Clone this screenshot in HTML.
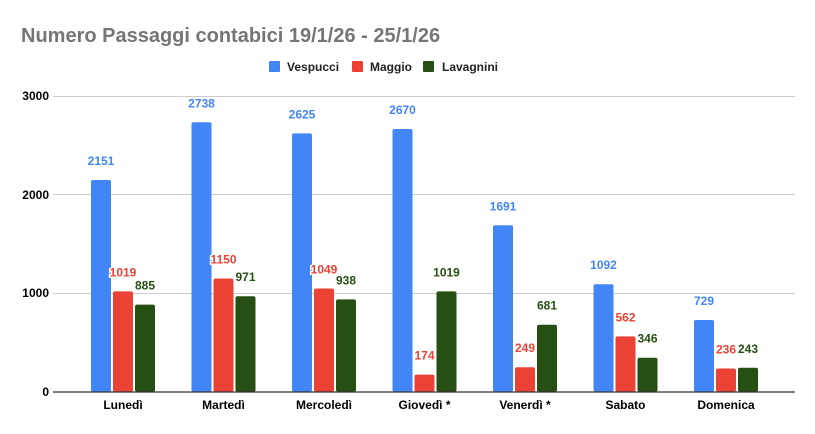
<!DOCTYPE html>
<html><head><meta charset="utf-8"><style>
html,body{margin:0;padding:0;background:#fff;}
svg{display:block;font-family:"Liberation Sans",Arial,sans-serif;}
.v{font-size:12px;font-weight:bold;text-anchor:middle;stroke:#fff;stroke-width:3px;paint-order:stroke;}
.b{fill:#4285f4}.r{fill:#ea4335}.g{fill:#274e13}
.c{font-size:12px;font-weight:bold;text-anchor:middle;fill:#000}
</style></head><body>
<svg width="815" height="434" viewBox="0 0 815 434" xmlns="http://www.w3.org/2000/svg">
<rect width="815" height="434" fill="#fff"/>
<text x="21" y="42" font-size="20" font-weight="bold" fill="#757575">Numero Passaggi contabici 19/1/26 - 25/1/26</text>
<g font-size="12" font-weight="bold" fill="#222">
<rect x="269" y="61" width="11" height="11" rx="1" fill="#4285f4"/><text x="287" y="71">Vespucci</text>
<rect x="352" y="61" width="11" height="11" rx="1" fill="#ea4335"/><text x="370" y="71">Maggio</text>
<rect x="423" y="61" width="11" height="11" rx="1" fill="#274e13"/><text x="442" y="71">Lavagnini</text>
</g>
<g stroke="#cccccc" stroke-width="1">
<line x1="53" y1="96.5" x2="795" y2="96.5"/>
<line x1="53" y1="194.5" x2="795" y2="194.5"/>
<line x1="53" y1="293.5" x2="795" y2="293.5"/>
</g>
<g font-size="12" font-weight="bold" fill="#000" text-anchor="end">
<text x="49" y="100">3000</text><text x="49" y="199">2000</text><text x="49" y="297">1000</text><text x="49" y="396">0</text>
</g>

<rect class="b" x="91" y="180.0" width="20" height="211.7" rx="2"/><text class="v b" x="101" y="165">2151</text>
<rect class="r" x="113" y="291.4" width="20" height="100.3" rx="2"/><text class="v r" x="123" y="276.4">1019</text>
<rect class="g" x="135" y="304.6" width="20" height="87.1" rx="2"/><text class="v g" x="145" y="289.6">885</text>
<text class="c" x="123" y="409">Lunedì</text>

<rect class="b" x="191.5" y="122.3" width="20" height="269.4" rx="2"/><text class="v b" x="201.5" y="107.3">2738</text>
<rect class="r" x="213.5" y="278.5" width="20" height="113.2" rx="2"/><text class="v r" x="223.5" y="263.5">1150</text>
<rect class="g" x="235.5" y="296.2" width="20" height="95.5" rx="2"/><text class="v g" x="245.5" y="281.2">971</text>
<text class="c" x="223.5" y="409">Martedì</text>

<rect class="b" x="292" y="133.4" width="20" height="258.3" rx="2"/><text class="v b" x="302" y="118.4">2625</text>
<rect class="r" x="314" y="288.5" width="20" height="103.2" rx="2"/><text class="v r" x="324" y="273.5">1049</text>
<rect class="g" x="336" y="299.4" width="20" height="92.3" rx="2"/><text class="v g" x="346" y="284.4">938</text>
<text class="c" x="324" y="409">Mercoledì</text>

<rect class="b" x="392.5" y="129.0" width="20" height="262.7" rx="2"/><text class="v b" x="402.5" y="114">2670</text>
<rect class="r" x="414.5" y="374.6" width="20" height="17.1" rx="2"/><text class="v r" x="424.5" y="359.6">174</text>
<rect class="g" x="436.5" y="291.4" width="20" height="100.3" rx="2"/><text class="v g" x="446.5" y="276.4">1019</text>
<text class="c" x="424.5" y="409">Giovedì *</text>

<rect class="b" x="493" y="225.3" width="20" height="166.4" rx="2"/><text class="v b" x="503" y="210.3">1691</text>
<rect class="r" x="515" y="367.2" width="20" height="24.5" rx="2"/><text class="v r" x="525" y="352.2">249</text>
<rect class="g" x="537" y="324.7" width="20" height="67.0" rx="2"/><text class="v g" x="547" y="309.7">681</text>
<text class="c" x="525" y="409">Venerdì *</text>

<rect class="b" x="593.5" y="284.2" width="20" height="107.5" rx="2"/><text class="v b" x="603.5" y="269.2">1092</text>
<rect class="r" x="615.5" y="336.4" width="20" height="55.3" rx="2"/><text class="v r" x="625.5" y="321.4">562</text>
<rect class="g" x="637.5" y="357.7" width="20" height="34.0" rx="2"/><text class="v g" x="647.5" y="342.7">346</text>
<text class="c" x="625.5" y="409">Sabato</text>

<rect class="b" x="694" y="320.0" width="20" height="71.7" rx="2"/><text class="v b" x="704" y="305">729</text>
<rect class="r" x="716" y="368.5" width="20" height="23.2" rx="2"/><text class="v r" x="726" y="353.5">236</text>
<rect class="g" x="738" y="367.8" width="20" height="23.9" rx="2"/><text class="v g" x="748" y="352.8">243</text>
<text class="c" x="726" y="409">Domenica</text>

<line x1="53" y1="392" x2="795" y2="392" stroke="#333" stroke-width="1.3"/>
</svg>
</body></html>
